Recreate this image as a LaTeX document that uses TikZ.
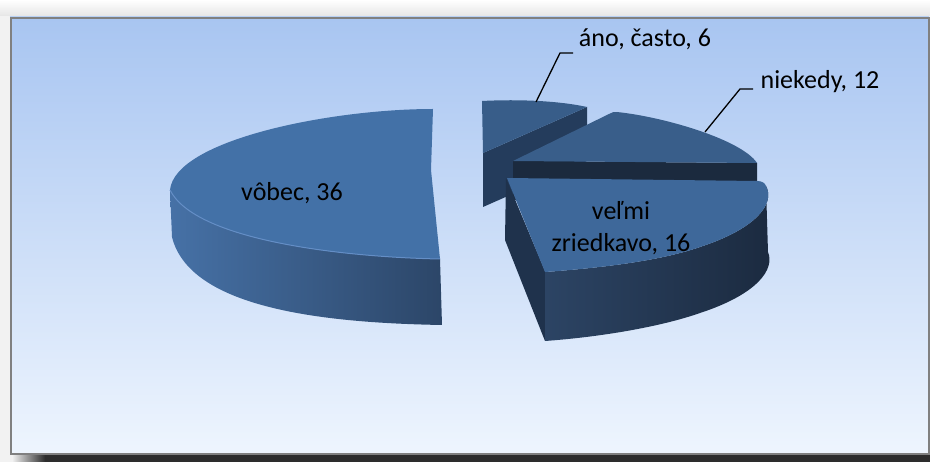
\documentclass[tikz,border=0pt]{standalone}
\usepackage{fontspec}
\setmainfont{Carlito}
\definecolor{panelTop}{RGB}{168,197,241}
\definecolor{panelBot}{RGB}{238,245,254}
\definecolor{outerBg}{RGB}{242,242,242}
\definecolor{borderGray}{RGB}{128,128,128}
\definecolor{shadowDark}{RGB}{45,45,45}
\definecolor{anoTop}{RGB}{56,93,137}
\definecolor{anoSide}{RGB}{36,60,92}
\definecolor{niekTop}{RGB}{57,94,138}
\definecolor{niekBand}{RGB}{27,42,62}
\definecolor{velTop}{RGB}{62,104,154}
\definecolor{velSideL}{RGB}{44,68,100}
\definecolor{velSideR}{RGB}{27,42,63}
\definecolor{velCut}{RGB}{31,50,76}
\definecolor{vobTop}{RGB}{67,113,167}
\definecolor{vobSideL}{RGB}{70,113,166}
\definecolor{vobSideR}{RGB}{44,70,104}
\definecolor{vobRim}{RGB}{100,142,198}
\tikzset{
  lbl/.style={inner sep=0pt, font=\fontsize{26}{32}\selectfont, text=black},
  leader/.style={draw=black, line width=1.3pt},
}
\begin{document}
\begin{tikzpicture}[x=1pt,y=-1pt]
\useasboundingbox (0,0) rectangle (930,462);
% outer background
\fill[outerBg] (0,0) rectangle (930,462);
\shade[top color=white, bottom color=outerBg!95!black] (0,0) rectangle (930,16);
% bottom shadow
\fill[shadowDark] (45,455) rectangle (930,462);
\shade[left color=outerBg, right color=shadowDark] (12,455) rectangle (45,462);
% panel
\shade[top color=panelTop, bottom color=panelBot] (10,17) rectangle (929,454);
\draw[borderGray, line width=1.6pt] (11,18) rectangle (929,454);
\draw[panelTop!80!white, line width=0.6pt] (9.5,16.5) -- (929,16.5);

% ---- slice: ano, casto (back) ----
\fill[anoSide] (483,153) -- (587,107) -- (587,161) -- (483,207) -- cycle;
\fill[anoTop] (483,153) -- (482,101) .. controls (520,99) and (560,101) .. (587,107) -- cycle;

% ---- slice: niekedy ----
\fill[niekBand] (513,161) -- (757,163) -- (757,200) -- (513,200) -- cycle;
\fill[niekTop] (513,161) -- (609,114) .. controls (612,112) and (614,112) .. (617,112)
  .. controls (665,117) and (742,140) .. (757,163) -- cycle;

% ---- slice: velmi zriedkavo ----
\fill[velCut] (506,178) -- (545,271) -- (545,341) -- (505,240) -- cycle;
\shade[left color=velSideL, right color=velSideR]
  (545,272) .. controls (600,268) and (660,261) .. (700,247)
  .. controls (758,228) and (775,203) .. (766,186) -- (768,252)
  .. controls (775,269) and (758,294) .. (700,313)
  .. controls (660,327) and (600,337) .. (545,341) -- cycle;
\fill[velTop] (507,178) -- (757,181) .. controls (762,181) and (765,183) .. (766,186)
  .. controls (775,203) and (758,228) .. (700,247)
  .. controls (660,261) and (600,268) .. (545,272) -- cycle;

% ---- slice: vobec (left) ----
\shade[left color=vobSideL, right color=vobSideR]
  (170,190) .. controls (195,240) and (340,257) .. (440,259) -- (442,325)
  .. controls (330,323) and (190,310) .. (172,237) -- cycle;
\fill[vobTop] (433,109) -- (431,170) -- (440,259)
  .. controls (340,257) and (195,240) .. (170,190)
  .. controls (175,140) and (330,109) .. (433,109) -- cycle;
\draw[vobRim, line width=1pt] (440,259) .. controls (340,257) and (195,240) .. (170,190);

% ---- labels ----
\node[lbl] (vobec) at (292,193) {vôbec, 36};
\node[lbl, align=center] (velmi) at (621,228) {veľmi\\zriedkavo, 16};
\node[lbl] (ano) at (645,39) {áno, často, 6};
\node[lbl] (niek) at (820,82) {niekedy, 12};

% ---- leader lines ----
\coordinate (anoA) at (573,53);
\coordinate (anoB) at (560,53);
\coordinate (anoTip) at (536,102);
\draw[leader] (anoA) -- (anoB) -- (anoTip);
\coordinate (niekA) at (753,89);
\coordinate (niekB) at (740,89);
\coordinate (niekTip) at (705,132);
\draw[leader] (niekA) -- (niekB) -- (niekTip);
\end{tikzpicture}
\end{document}
